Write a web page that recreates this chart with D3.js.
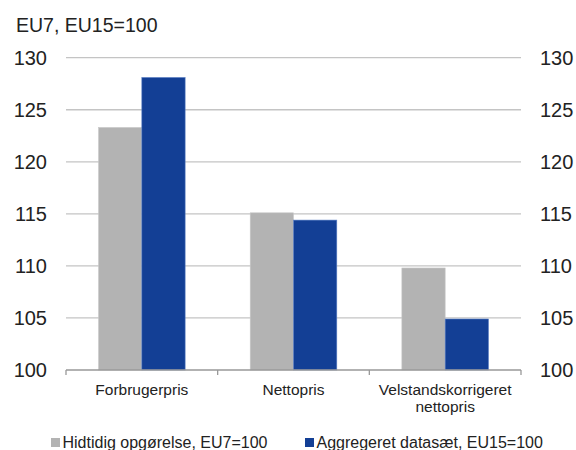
<!DOCTYPE html>
<html lang="da">
<head>
<meta charset="UTF-8">
<title>EU7, EU15=100</title>
<script src="https://d3js.org/d3.v7.min.js"></script>
<style>
	body { margin: 0; background: #fff; }
	text { font-family: "Liberation Sans", Arial, sans-serif; fill: #222; }
	.grid line { stroke: #c4c4c4; stroke-width: 1.3; }
</style>
</head>
<body>
<script>
	var categories = [["Forbrugerpris"], ["Nettopris"], ["Velstandskorrigeret", "nettopris"]];
	var seriesNames = ["Hidtidig opgørelse, EU7=100", "Aggregeret datasæt, EU15=100"];
	var hidtidig = [123.3, 115.1, 109.8];
	var aggregeret = [128.1, 114.4, 104.9];
	var yTicks = [100, 105, 110, 115, 120, 125, 130];
	var colors = ["#b3b3b3", "#133f95"];

	var W = 576, H = 450;
	var plotLeft = 66, plotRight = 521, plotTop = 57.7, plotBottom = 370;

	var svg = d3.select("body").append("svg")
		.attr("width", W).attr("height", H);

	var x = d3.scaleBand().domain(d3.range(categories.length)).range([plotLeft, plotRight]);
	var y = d3.scaleLinear().domain([100, 130]).range([plotBottom, plotTop]);
	var barW = 43.3;

	// title
	svg.append("text").attr("x", 16).attr("y", 32)
		.style("font-size", "19.5px").text("EU7, EU15=100");

	// gridlines
	svg.append("g").attr("class", "grid")
		.selectAll("line").data(yTicks.slice(1)).enter().append("line")
		.attr("x1", plotLeft).attr("x2", plotRight)
		.attr("y1", function (d) { return y(d); })
		.attr("y2", function (d) { return y(d); });

	// y labels left/right
	var yl = d3.axisLeft(y).tickValues(yTicks).tickSize(0).tickPadding(19);
	var gl = svg.append("g").attr("transform", "translate(" + plotLeft + ",0)").call(yl);
	var yr = d3.axisRight(y).tickValues(yTicks).tickSize(0).tickPadding(19);
	var gr = svg.append("g").attr("transform", "translate(" + plotRight + ",0)").call(yr);
	[gl, gr].forEach(function (g) {
		g.select(".domain").remove();
		g.selectAll("text").style("font-size", "20px")
			.style("font-family", "'Liberation Sans', Arial, sans-serif").attr("fill", "#222");
	});

	// bars
	var groups = [hidtidig, aggregeret];
	groups.forEach(function (vals, s) {
		svg.append("g").selectAll("rect").data(vals).enter().append("rect")
			.attr("x", function (d, i) { return x(i) + x.bandwidth() / 2 - barW + s * barW; })
			.attr("y", function (d) { return y(d); })
			.attr("width", barW)
			.attr("height", function (d) { return y(100) - y(d); })
			.attr("fill", colors[s])
			.attr("stroke", s === 0 ? "#c8c8c8" : "#5a7fc4")
			.attr("stroke-width", 0.6);
	});

	// x axis line and boundary ticks
	svg.append("line").attr("x1", plotLeft).attr("x2", plotRight)
		.attr("y1", plotBottom).attr("y2", plotBottom)
		.attr("stroke", "#999").attr("stroke-width", 1.3);
	var bounds = d3.range(categories.length + 1).map(function (i) { return plotLeft + i * x.bandwidth(); });
	svg.append("g").selectAll("line").data(bounds).enter().append("line")
		.attr("x1", function (d) { return d; }).attr("x2", function (d) { return d; })
		.attr("y1", plotBottom).attr("y2", plotBottom + 5)
		.attr("stroke", "#999").attr("stroke-width", 1.3);

	// category labels
	var cl = svg.append("g").selectAll("text").data(categories).enter().append("text")
		.attr("text-anchor", "middle")
		.attr("x", function (d, i) { return x(i) + x.bandwidth() / 2; })
		.attr("y", 395)
		.style("font-size", "15.5px");
	cl.selectAll("tspan").data(function (d) { return d; }).enter().append("tspan")
		.attr("x", function () { return d3.select(this.parentNode).attr("x"); })
		.attr("dy", function (d, i) { return i === 0 ? 0 : 17; })
		.text(function (d) { return d; });

	// legend
	var legX = [51, 305];
	seriesNames.forEach(function (n, s) {
		svg.append("rect").attr("x", legX[s]).attr("y", 438)
			.attr("width", 9).attr("height", 9).attr("fill", colors[s]);
		svg.append("text").attr("x", legX[s] + 11.5).attr("y", 448)
			.style("font-size", "16px").text(n);
	});
</script>
</body>
</html>
